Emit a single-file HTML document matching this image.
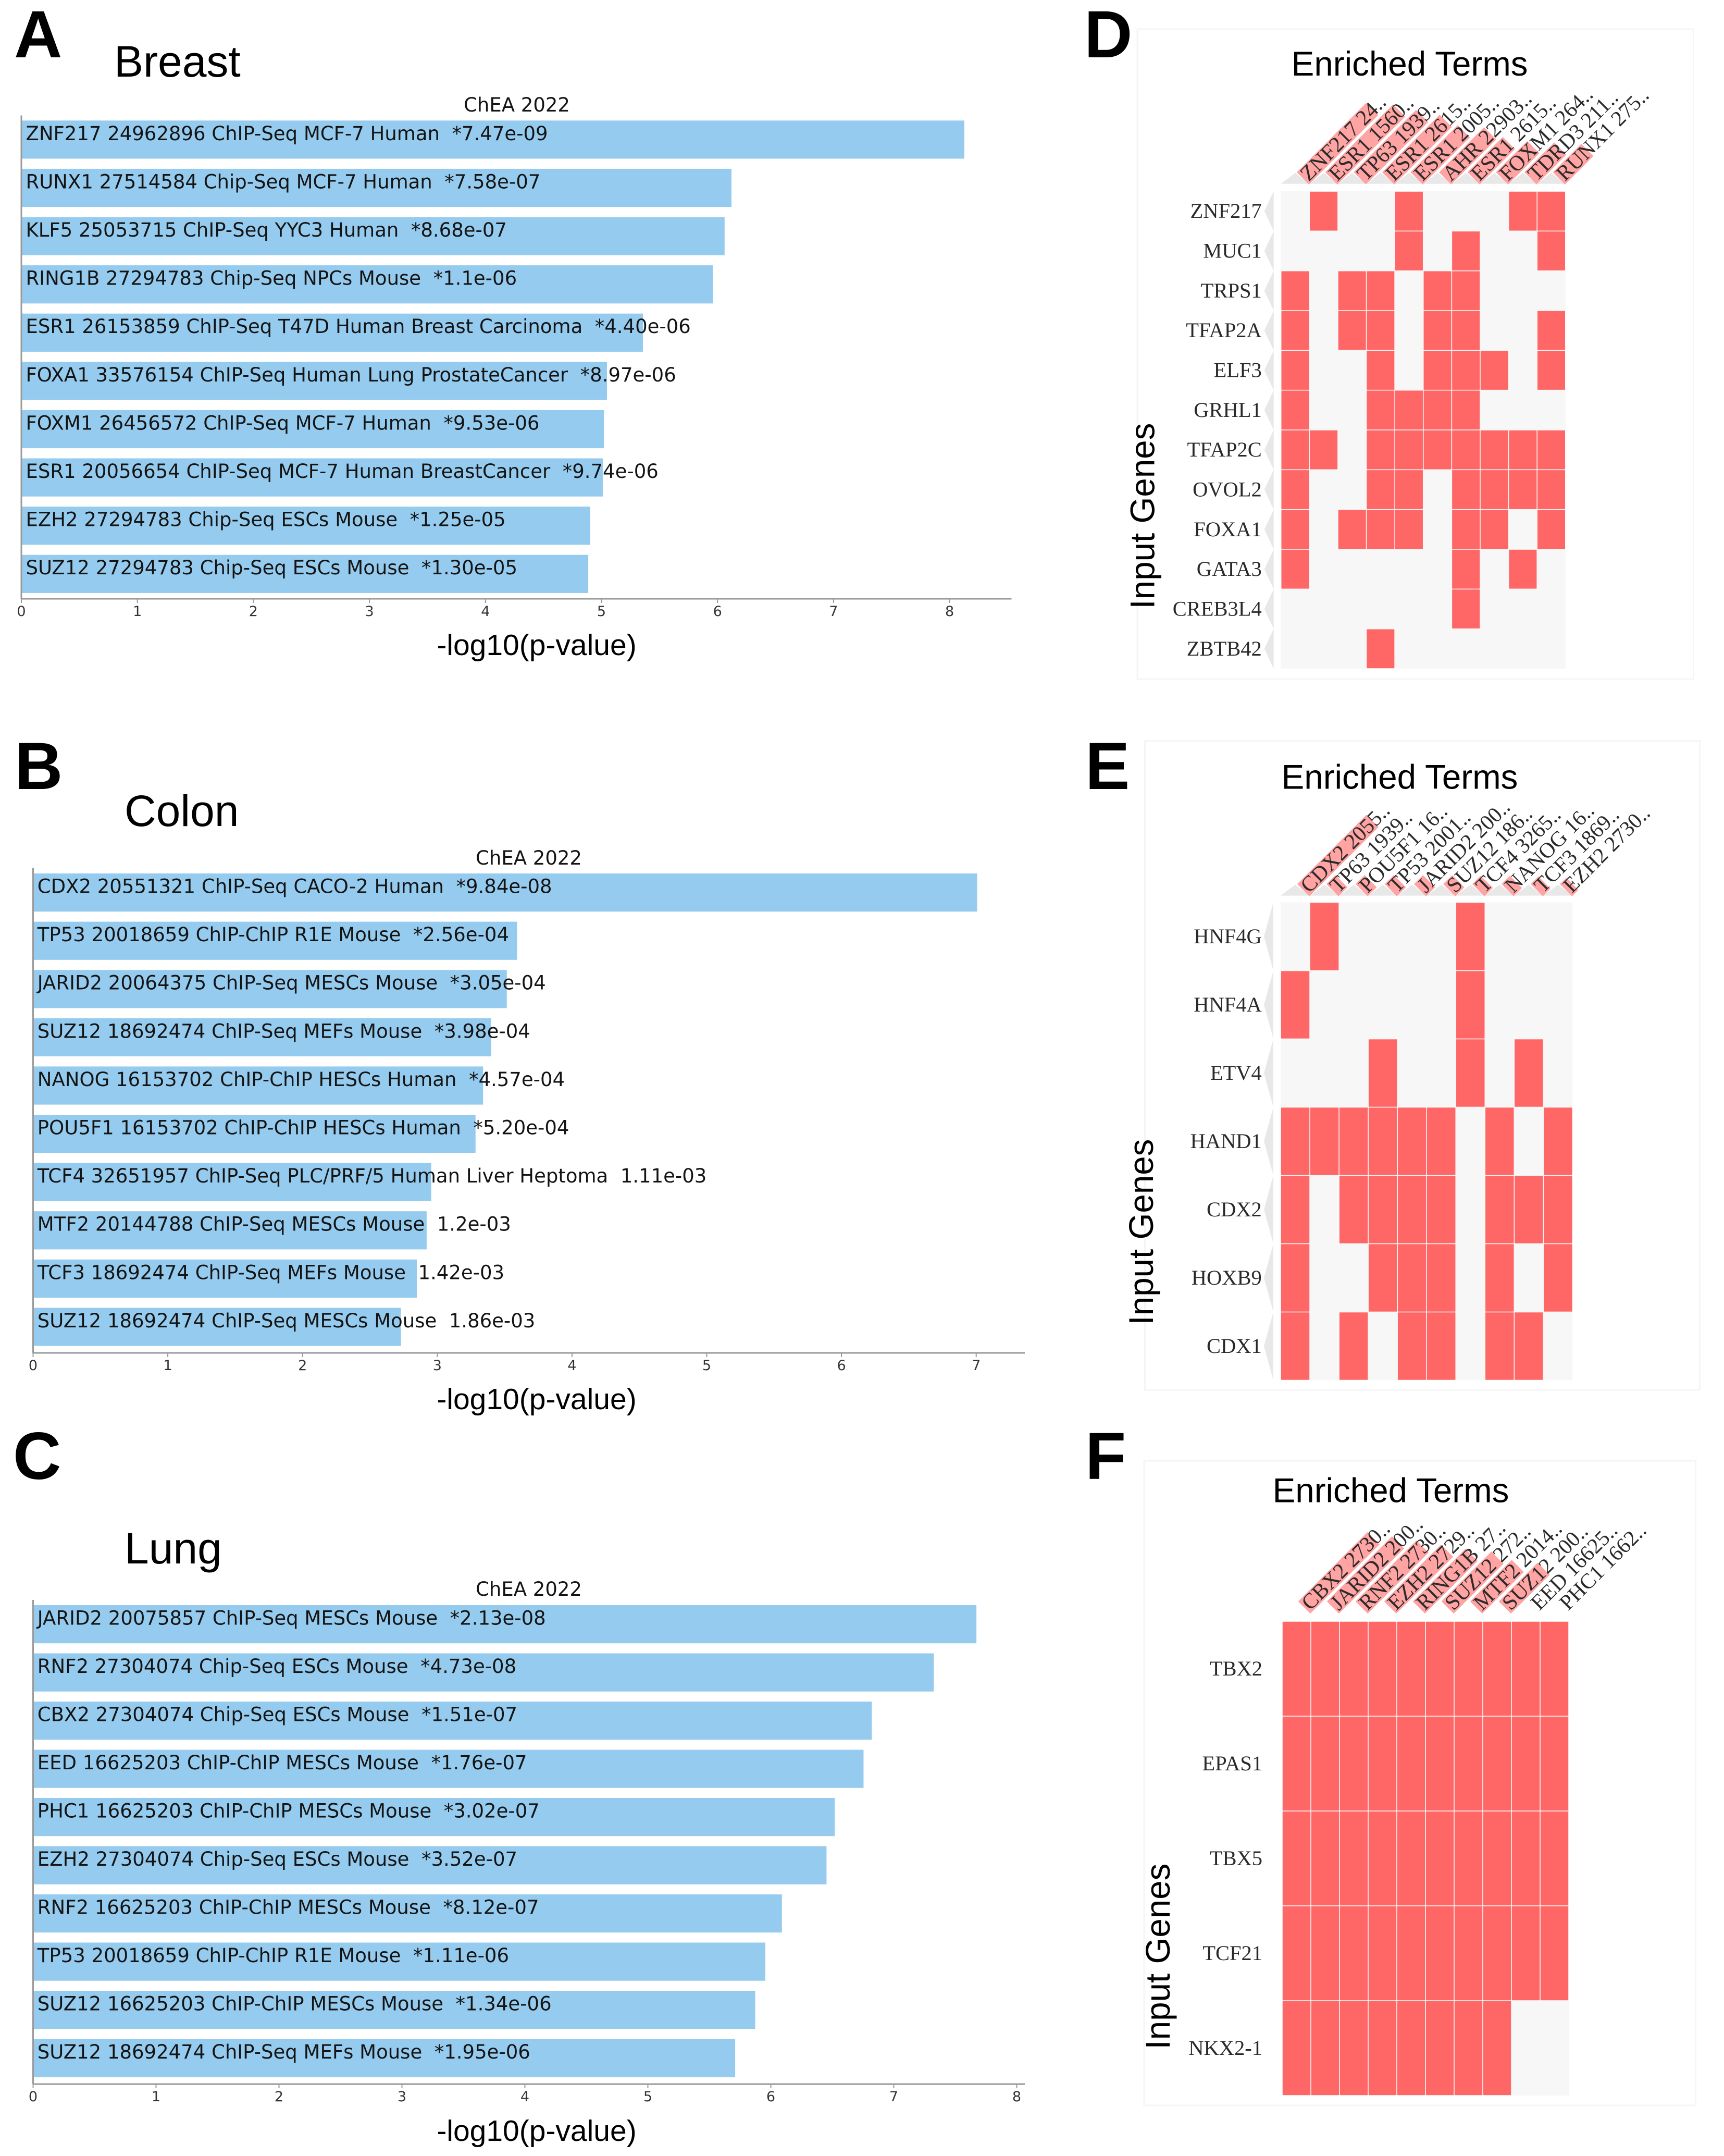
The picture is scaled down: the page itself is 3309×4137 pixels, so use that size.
<!DOCTYPE html>
<html lang="en">
<head>
<meta charset="utf-8">
<title>ChEA 2022 enrichment by tissue</title>
<style>
html,body{margin:0;padding:0;background:#fff;width:3309px;height:4137px;overflow:hidden}
svg{display:block}
text{white-space:pre}
.lbl{font-family:"DejaVu Sans",sans-serif;font-size:37px;fill:#141414}
.tick{font-family:"DejaVu Sans",sans-serif;font-size:27px;fill:#333;text-anchor:middle}
.sans{font-family:"Liberation Sans",sans-serif;fill:#000}
.serif{font-family:"Liberation Serif",serif;fill:#2a2a2a}
.letter{font-family:"Liberation Sans",sans-serif;font-weight:700;font-size:128px;fill:#000}
</style>
</head>
<body>
<svg id="figure" xmlns="http://www.w3.org/2000/svg" width="3309" height="4137" viewBox="0 0 3309 4137">
<rect width="3309" height="4137" fill="#fff"/>
<text class="letter" x="27" y="110">A</text>
<text class="letter" x="28" y="1514">B</text>
<text class="letter" x="25" y="2838">C</text>
<text class="letter" x="2081" y="110">D</text>
<text class="letter" x="2083" y="1514">E</text>
<text class="letter" x="2083" y="2838">F</text>
<text class="sans" x="219" y="147" font-size="84">Breast</text>
<text class="sans" x="239" y="1585" font-size="84">Colon</text>
<text class="sans" x="239" y="3000" font-size="84">Lung</text>
</svg>
<script>
// ---------- bar chart data ----------
const breastTerms = ["ZNF217 24962896 ChIP-Seq MCF-7 Human","RUNX1 27514584 Chip-Seq MCF-7 Human","KLF5 25053715 ChIP-Seq YYC3 Human","RING1B 27294783 Chip-Seq NPCs Mouse","ESR1 26153859 ChIP-Seq T47D Human Breast Carcinoma","FOXA1 33576154 ChIP-Seq Human Lung ProstateCancer","FOXM1 26456572 ChIP-Seq MCF-7 Human","ESR1 20056654 ChIP-Seq MCF-7 Human BreastCancer","EZH2 27294783 Chip-Seq ESCs Mouse","SUZ12 27294783 Chip-Seq ESCs Mouse"];
const breastPLabels = ["*7.47e-09","*7.58e-07","*8.68e-07","*1.1e-06","*4.40e-06","*8.97e-06","*9.53e-06","*9.74e-06","*1.25e-05","*1.30e-05"];
const breastValues = [8.127,6.120,6.061,5.959,5.357,5.047,5.021,5.011,4.903,4.886];
const breastTicks = [0,1,2,3,4,5,6,7,8];

const colonTerms = ["CDX2 20551321 ChIP-Seq CACO-2 Human","TP53 20018659 ChIP-ChIP R1E Mouse","JARID2 20064375 ChIP-Seq MESCs Mouse","SUZ12 18692474 ChIP-Seq MEFs Mouse","NANOG 16153702 ChIP-ChIP HESCs Human","POU5F1 16153702 ChIP-ChIP HESCs Human","TCF4 32651957 ChIP-Seq PLC/PRF/5 Human Liver Heptoma","MTF2 20144788 ChIP-Seq MESCs Mouse","TCF3 18692474 ChIP-Seq MEFs Mouse","SUZ12 18692474 ChIP-Seq MESCs Mouse"];
const colonPLabels = ["*9.84e-08","*2.56e-04","*3.05e-04","*3.98e-04","*4.57e-04","*5.20e-04","1.11e-03","1.2e-03","1.42e-03","1.86e-03"];
const colonValues = [7.007,3.592,3.516,3.400,3.340,3.284,2.955,2.921,2.848,2.730];
const colonTicks = [0,1,2,3,4,5,6,7];

const lungTerms = ["JARID2 20075857 ChIP-Seq MESCs Mouse","RNF2 27304074 Chip-Seq ESCs Mouse","CBX2 27304074 Chip-Seq ESCs Mouse","EED 16625203 ChIP-ChIP MESCs Mouse","PHC1 16625203 ChIP-ChIP MESCs Mouse","EZH2 27304074 Chip-Seq ESCs Mouse","RNF2 16625203 ChIP-ChIP MESCs Mouse","TP53 20018659 ChIP-ChIP R1E Mouse","SUZ12 16625203 ChIP-ChIP MESCs Mouse","SUZ12 18692474 ChIP-Seq MEFs Mouse"];
const lungPLabels = ["*2.13e-08","*4.73e-08","*1.51e-07","*1.76e-07","*3.02e-07","*3.52e-07","*8.12e-07","*1.11e-06","*1.34e-06","*1.95e-06"];
const lungValues = [7.672,7.325,6.821,6.754,6.520,6.453,6.090,5.955,5.873,5.710];
const lungTicks = [0,1,2,3,4,5,6,7,8];

// ---------- heatmap data ----------
const breastGenes = ["ZNF217","MUC1","TRPS1","TFAP2A","ELF3","GRHL1","TFAP2C","OVOL2","FOXA1","GATA3","CREB3L4","ZBTB42"];
const breastColumns = ["ZNF217 24..","ESR1 1560..","TP63 1939..","ESR1 2615..","ESR1 2005..","AHR 22903..","ESR1 2615..","FOXM1 264..","TDRD3 211..","RUNX1 275.."];
const breastColumnScores = [1,0.98,0.90,0.83,0.68,0.65,0.51,0.45,0.43,0.41];
const breastMatrix = [
  [0,1,0,0,1,0,0,0,1,1],
  [0,0,0,0,1,0,1,0,0,1],
  [1,0,1,1,0,1,1,0,0,0],
  [1,0,1,1,0,1,1,0,0,1],
  [1,0,0,1,0,1,1,1,0,1],
  [1,0,0,1,1,1,1,0,0,0],
  [1,1,0,1,1,1,1,1,1,1],
  [1,0,0,1,1,0,1,1,1,1],
  [1,0,1,1,1,0,1,1,0,1],
  [1,0,0,0,0,0,1,0,1,0],
  [0,0,0,0,0,0,1,0,0,0],
  [0,0,0,1,0,0,0,0,0,0]
];

const colonGenes = ["HNF4G","HNF4A","ETV4","HAND1","CDX2","HOXB9","CDX1"];
const colonColumns = ["CDX2 2055..","TP63 1939..","POU5F1 16..","TP53 2001..","JARID2 200..","SUZ12 186..","TCF4 3265..","NANOG 16..","TCF3 1869..","EZH2 2730.."];
const colonColumnScores = [1,0.13,0.13,0.13,0.13,0.13,0.12,0.12,0.11,0.09];
const colonMatrix = [
  [0,1,0,0,0,0,1,0,0,0],
  [1,0,0,0,0,0,1,0,0,0],
  [0,0,0,1,0,0,1,0,1,0],
  [1,1,1,1,1,1,0,1,0,1],
  [1,0,1,1,1,1,0,1,1,1],
  [1,0,0,1,1,1,0,1,0,1],
  [1,0,1,0,1,1,0,1,1,0]
];

const lungGenes = ["TBX2","EPAS1","TBX5","TCF21","NKX2-1"];
const lungColumns = ["CBX2 2730..","JARID2 200..","RNF2 2730..","EZH2 2729..","RING1B 27..","SUZ12 272..","MTF2 2014..","SUZ12 200..","EED 16625..","PHC1 1662.."];
const lungColumnScores = [1,0.94,0.88,0.82,0.76,0.72,0.60,0.56,0,0];
const lungMatrix = [
  [1,1,1,1,1,1,1,1,1,1],
  [1,1,1,1,1,1,1,1,1,1],
  [1,1,1,1,1,1,1,1,1,1],
  [1,1,1,1,1,1,1,1,1,1],
  [1,1,1,1,1,1,1,1,0,0]
];

// ---------- helpers ----------
const svg = document.getElementById('figure');
const NS = 'http://www.w3.org/2000/svg';
function make(tag, attrs, parent, txt) {
  const el = document.createElementNS(NS, tag);
  for (const k in attrs) el.setAttribute(k, attrs[k]);
  if (txt !== undefined) el.textContent = txt;
  (parent || svg).appendChild(el);
  return el;
}

// ---------- bar chart ----------
function drawBars(key, terms, pLabels, values, ticks, g) {
  const xScale = v => g.x0 + v * g.unit;
  const yScale = i => g.barTop + i * g.pitch;
  const group = make('g', {});
  
  

  values.forEach((v, i) => {
    const bar = make('rect', {x: g.x0, y: yScale(i), width: xScale(v) - g.x0, height: g.barH, fill: '#95cbee'}, group);
    
    
  });
  terms.forEach((t, i) => {
    const label = make('text', {class: 'lbl', x: g.x0 + g.textDx, y: yScale(i) + 37.5}, group, t + '  ' + pLabels[i]);
    
    
  });

  const yAxis = make('line', {x1: g.x0, x2: g.x0, y1: g.axisTop, y2: g.axisY, stroke: '#9a9a9a', 'stroke-width': 3}, group);
  
  
  const xAxis = make('line', {x1: g.x0, x2: g.axisRight, y1: g.axisY, y2: g.axisY, stroke: '#9a9a9a', 'stroke-width': 3}, group);
  
  

  ticks.forEach(t => {
    const mark = make('line', {x1: xScale(t), x2: xScale(t), y1: g.axisY, y2: g.axisY + 8, stroke: '#9a9a9a', 'stroke-width': 2}, group);
    
    
    const tl = make('text', {class: 'tick', x: xScale(t), y: g.axisY + 33}, group, String(t));
    
    
  });

  const title = make('text', {class: 'lbl', x: g.titleX, y: g.titleY, 'text-anchor': 'middle'}, group, 'ChEA 2022');
  
  
  const xTitle = make('text', {class: 'sans', x: 1030, y: g.xTitleY, 'font-size': 57, 'text-anchor': 'middle'}, group, '-log10(p-value)');
  
  
}

drawBars('breast', breastTerms, breastPLabels, breastValues, breastTicks,
  {x0: 41, unit: 222.7, barTop: 231.3, barH: 73.2, pitch: 92.6, axisTop: 221.5, axisY: 1149, axisRight: 1941.5, textDx: 8.5, titleX: 992, titleY: 214, xTitleY: 1257});
drawBars('colon', colonTerms, colonPLabels, colonValues, colonTicks,
  {x0: 63.5, unit: 258.6, barTop: 1676, barH: 73.2, pitch: 92.6, axisTop: 1665, axisY: 2596, axisRight: 1967, textDx: 8.3, titleX: 1015, titleY: 1659, xTitleY: 2704});
drawBars('lung', lungTerms, lungPLabels, lungValues, lungTicks,
  {x0: 63.5, unit: 236, barTop: 3080, barH: 73.2, pitch: 92.5, axisTop: 3070, axisY: 3999, axisRight: 1967, textDx: 8.3, titleX: 1015, titleY: 3062, xTitleY: 4108});

// ---------- heatmaps ----------
function drawHeatmap(key, genes, columns, scores, matrix, g) {
  const group = make('g', {});
  
  
  const cw = (g.right - g.left) / columns.length;
  const rh = (g.bottom - g.top) / genes.length;
  const colX = c => g.left + c * cw;
  const rowY = r => g.top + r * rh;

  const frame = make('rect', {x: g.fl, y: g.ft, width: g.fr - g.fl, height: g.fb - g.ft, fill: '#fff', stroke: '#f5f5f5', 'stroke-width': 3}, group);
  
  

  const title = make('text', {class: 'sans', x: g.titleX, y: g.titleY, 'font-size': 65.5, 'text-anchor': 'middle'}, group, 'Enriched Terms');
  
  
  const yTitle = make('text', {class: 'sans', x: 0, y: 0, 'font-size': 65.5, 'text-anchor': 'middle', transform: 'translate(' + g.yTitleX + ' ' + g.yTitleY + ') rotate(-90)'}, group, 'Input Genes');
  
  

  columns.forEach((name, c) => {
    if (g.markers) {
      const tri = make('polygon', {points: colX(c) + ',' + g.y0 + ' ' + colX(c + 1) + ',' + g.y0 + ' ' + (colX(c) + cw / 2) + ',' + (g.y0 - 21), fill: '#e8e8e8'}, group);
      
      
    }
    const ax = colX(c + 1) - 12.6;
    const ay = g.y0 - 10.5;
    const head = make('g', {transform: 'translate(' + ax + ' ' + ay + ') rotate(-45)'}, group);
    
    
    if (scores[c] > 0) {
      const pink = make('rect', {x: 0, y: -16.5, width: scores[c] * g.maxLen, height: 33, fill: '#ffa3a3'}, head);
      
      
    }
    const t = make('text', {class: 'serif', x: 3, y: 13, 'font-size': 41.5}, head, name);
    
    
  });

  const bg = make('rect', {x: g.left, y: g.top, width: g.right - g.left, height: g.bottom - g.top, fill: '#f7f7f7'}, group);
  
  

  genes.forEach((gene, r) => {
    if (g.markers) {
      const tri = make('polygon', {points: g.left - 14 + ',' + rowY(r) + ' ' + (g.left - 14) + ',' + rowY(r + 1) + ' ' + (g.left - 32) + ',' + (rowY(r) + rh / 2), fill: '#e8e8e8'}, group);
      
      
    }
    const label = make('text', {class: 'serif', x: g.labelX, y: rowY(r) + rh / 2 + 13, 'font-size': 40.5, 'text-anchor': 'end'}, group, gene);
    
    
    matrix[r].forEach((v, c) => {
      if (!v) return;
      const cell = make('rect', {x: colX(c) + 0.8, y: rowY(r) + 0.8, width: cw - 1.6, height: rh - 1.6, fill: '#ff6666'}, group);
      
      
    });
  });
}

drawHeatmap('breast', breastGenes, breastColumns, breastColumnScores, breastMatrix,
  {left: 2458.7, right: 3004.8, top: 367, bottom: 1283, y0: 352.7, fl: 2183, fr: 3250.5, ft: 56, fb: 1303, titleX: 2705.6, titleY: 145, yTitleX: 2215.6, yTitleY: 990, labelX: 2421.8, maxLen: 188, markers: true});
drawHeatmap('colon', colonGenes, colonColumns, colonColumnScores, colonMatrix,
  {left: 2458, right: 3018.4, top: 1731.5, bottom: 2648.5, y0: 1718.6, fl: 2197.5, fr: 3262.5, ft: 1421.5, fb: 2667, titleX: 2686.5, titleY: 1513.6, yTitleX: 2213, yTitleY: 2364, labelX: 2421.8, maxLen: 188, markers: true});
drawHeatmap('lung', lungGenes, lungColumns, lungColumnScores, lungMatrix,
  {left: 2461, right: 3011, top: 3111, bottom: 4021, y0: 3095, fl: 2196, fr: 3254.5, ft: 2803, fb: 4040, titleX: 2669.5, titleY: 2882.7, yTitleX: 2245, yTitleY: 3754, labelX: 2423, maxLen: 188, markers: false});
</script>
</body>
</html>
